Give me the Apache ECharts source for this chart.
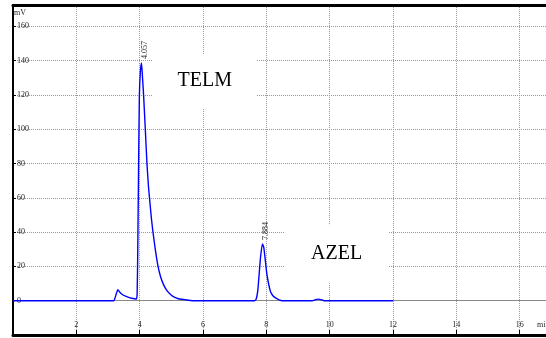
<!DOCTYPE html>
<html><head><meta charset="utf-8">
<script src="https://cdn.jsdelivr.net/npm/echarts@6/dist/echarts.min.js"></script>
<style>html,body{margin:0;padding:0;background:#fff}#c{width:546px;height:338px}</style>
</head><body><div id="c"></div>
<script>
// retention time (min) and detector signal (mV)
const times  = [0, 3.18, 3.22, 3.27, 3.31, 3.36, 3.45, 3.55, 3.65, 3.75, 3.85, 3.90, 3.92, 3.94, 3.96, 3.99, 4.02, 4.057, 4.09, 4.126, 4.18, 4.23, 4.28, 4.32, 4.37, 4.42, 4.50, 4.58, 4.66, 4.75, 4.84, 4.95, 5.05, 5.20, 5.42, 5.60, 5.80, 7.62, 7.68, 7.73, 7.77, 7.82, 7.877, 7.92, 7.97, 8.02, 8.08, 8.13, 8.20, 8.29, 8.40, 8.50, 9.45, 9.55, 9.65, 9.75, 9.82, 12];
const signal = [0, 0,    1.5,  4.5,  6.4,  5.2,  3.6,  2.6,  1.9,  1.4,  1.1,  1.0,  4,    30,   68,   119,  133,  138.6, 130,  119,   99,   80,   66,   58,   48,   40,   29,   20,   14,   9.5,  6.4,  4,    2.5,  1.3,  0.6,  0.1,  0,    0,    1,    6,    15,   26,   33.1,  31,   23,   15,   9,    5.4,  3,    1.6,  0.5,  0,    0,    0.6,  0.9,  0.5,  0,    0];
const xTickLabels = [2, 4, 6, 8, 10, 12, 14, 16];
const yTickLabels = [0, 20, 40, 60, 80, 100, 120, 140, 160];
const peakTimes   = [4.057, 7.877];
const peakHeights = [138.6, 33.1];
const peakLabels  = ['4.057', '7.884'];
const compoundNames = ['TELM', 'AZEL'];
const compoundAt  = [[6.053, 128.0], [10.22, 27.1]];

const FONT = "'Liberation Serif', 'Times New Roman', serif";
const chart = echarts.init(document.getElementById('c'), null, {renderer: 'canvas'});
const data = times.map((t, i) => [t, signal[i]]);
const boxPad = [[23, 25, 11, 25], [27, 26, 11, 26]];

const markData = [];
peakTimes.forEach((t, i) => {
  markData.push({
    coord: [t, peakHeights[i]], symbolSize: 0,
    label: {show: true, formatter: peakLabels[i], position: 'inside', rotate: 90,
      offset: [13, 3], fontFamily: FONT, fontSize: 8, color: '#222'}
  });
});
compoundNames.forEach((n, i) => {
  markData.push({
    coord: compoundAt[i], symbolSize: 0,
    label: {show: true, formatter: n, position: 'inside', fontFamily: FONT, fontSize: 20,
      lineHeight: 20, color: '#000', backgroundColor: '#fff', padding: boxPad[i]}
  });
});

chart.setOption({
  animation: false,
  backgroundColor: '#fff',
  grid: {left: 13, right: 0, top: 5, bottom: 3, containLabel: false, outerBoundsMode: 'none'},
  xAxis: [{
    type: 'value', min: 0, max: 16.83, interval: 2, position: 'bottom',
    axisLine: {show: true, onZero: false, lineStyle: {color: '#000', width: 3}},
    axisTick: {show: true, inside: true, length: 5, lineStyle: {color: '#000'}},
    axisLabel: {inside: true, margin: 6, fontFamily: FONT, fontSize: 8, color: '#222',
      formatter: v => xTickLabels.includes(v) ? String(v) : ''},
    splitLine: {show: true, showMaxLine: false, lineStyle: {color: '#999', type: 'dotted', width: 1}}
  }, {
    type: 'value', min: 0, max: 16.83, position: 'top',
    axisLine: {show: true, onZero: false, lineStyle: {color: '#000', width: 3}},
    axisTick: {show: false}, axisLabel: {show: false}, splitLine: {show: false}
  }],
  yAxis: {
    type: 'value', min: -20, max: 172.4, interval: 20,
    axisLine: {show: true, onZero: false, lineStyle: {color: '#000', width: 2}},
    axisTick: {show: true, inside: true, length: 3, lineStyle: {color: '#000'}},
    axisLabel: {inside: true, margin: 4, fontFamily: FONT, fontSize: 8, color: '#222',
      formatter: v => yTickLabels.includes(v) ? String(v) : ''},
    splitLine: {show: true, showMaxLine: false, lineStyle: {color: '#999', type: 'dotted', width: 1}}
  },
  graphic: [
    {type: 'text', left: 14, top: 9, style: {text: 'mV', font: "8px " + FONT, fill: '#222'}},
    {type: 'text', left: 537, top: 321, style: {text: 'min', font: "8px " + FONT, fill: '#222'}}
  ],
  series: [{
    type: 'line', xAxisIndex: 0, data: data, showSymbol: false, smooth: 0.2,
    lineStyle: {color: '#0000ff', width: 1.4}, itemStyle: {color: '#0000ff'},
    markLine: {silent: true, symbol: 'none', label: {show: false},
      lineStyle: {color: '#888', type: 'solid', width: 1}, data: [{yAxis: 0}], z: 1},
    markPoint: {silent: true, symbol: 'circle', data: markData}
  }]
});
</script></body></html>
